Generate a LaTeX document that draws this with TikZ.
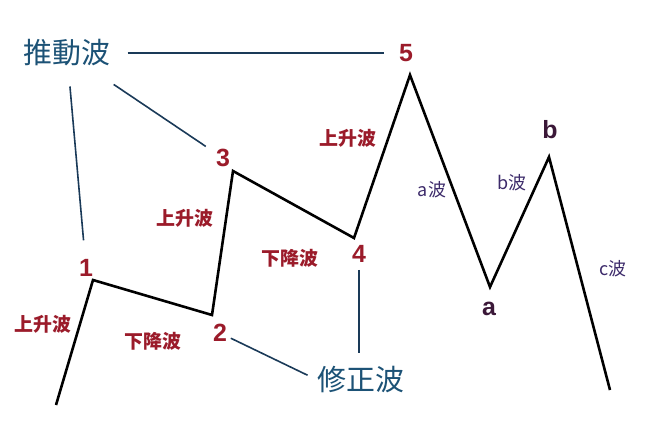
\documentclass[tikz,border=0pt]{standalone}
\usepackage{fontspec}
\newfontfamily\cjk{Noto Sans CJK TC}
\newfontfamily\digits{Liberation Sans}
\definecolor{wavered}{HTML}{9B1B2A}
\definecolor{titleblue}{HTML}{1C5276}
\definecolor{linkblue}{HTML}{1A3A58}
\definecolor{letterpurple}{HTML}{3B1838}
\definecolor{subpurple}{HTML}{3D2B6B}

\begin{document}
\begin{tikzpicture}[x=1bp,y=1bp,
						wave/.style={line width=2.6pt,black},
						link/.style={line width=1.6pt,linkblue},
						title/.style={font=\cjk\fontsize{29}{32}\selectfont,
						text=titleblue,inner sep=0pt},
						num/.style={font=\digits\bfseries\fontsize{25}{28}\selectfont,
						text=wavered,inner sep=1pt},
						letter/.style={num,text=letterpurple},
						trend/.style={font=\cjk\bfseries\fontsize{19}{22}\selectfont,
						text=wavered,inner sep=0pt},
						sub/.style={font=\cjk\fontsize{18}{20}\selectfont,
						text=subpurple,inner sep=0pt}]

		\useasboundingbox (0,0) rectangle (660,432);
		\fill[white] (0,0) rectangle (660,432);

		% wave points
		\coordinate (w0) at (56,27);
		\coordinate (w1) at (93,152);
		\coordinate (w2) at (212,117);
		\coordinate (w3) at (233,261);
		\coordinate (w4) at (354,194);
		\coordinate (w5) at (410,357);
		\coordinate (wa) at (490,145);
		\coordinate (wb) at (549,275);
		\coordinate (wc) at (610,42);

		\draw[wave] (w0) -- (w1) -- (w2) -- (w3) -- (w4) -- (w5)
			-- (wa) -- (wb) -- (wc);

		\node[num] (one) at (86,164) {1};
		\node[num] (two) at (220,99) {2};
		\node[num] (three) at (223,274) {3};
		\node[num] (four) at (359,178) {4};
		\node[num] (five) at (406,379) {5};
		\node[letter] (a) at (489,123) {a};
		\node[letter] (b) at (550,302) {b};

		\node[trend] (up1) at (43,108) {上升波};
		\node[trend] (down1) at (153,91) {下降波};
		\node[trend] (up3) at (185,214) {上升波};
		\node[trend] (down2) at (290,174) {下降波};
		\node[trend] (up5) at (348,294) {上升波};
		\node[sub] (suba) at (432,242) {a波};
		\node[sub] (subb) at (512,249) {b波};
		\node[sub] (subc) at (613,163) {c波};

		\node[title] (impulse) at (67,379) {推動波};
		\node[title] (correct) at (361,52) {修正波};

		\draw[link,shorten <=17bp,shorten >=14bp] (impulse) -- (five);
		\draw[link,shorten <=20bp,shorten >=18bp] (impulse) -- (one);
		\draw[link,shorten <=32bp,shorten >=11bp] (impulse) -- (three);
		\draw[link,shorten <=3bp,shorten >=11bp] (two) -- (correct.west);
		\draw[link,shorten <=6bp,shorten >=27bp] (four) -- (four |- correct);

	\end{tikzpicture}
\end{document}
